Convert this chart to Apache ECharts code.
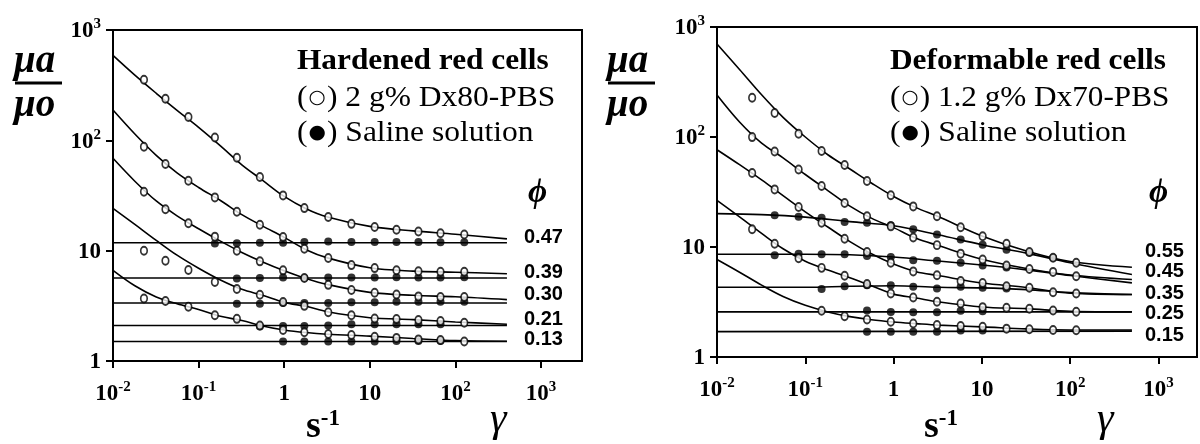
<!DOCTYPE html>
<html>
<head>
<meta charset="utf-8">
<script src="https://cdn.jsdelivr.net/npm/echarts@6/dist/echarts.min.js"></script>
<style>
  html, body { margin: 0; padding: 0; background: #fff; }
  #chart { width: 1200px; height: 444px; }
</style>
</head>
<body>
<div id="chart"></div>
<script>
// ---------- axes ----------
const X_TICKS = [0.01, 0.1, 1, 10, 100, 1000];
const X_TICK_LABELS = ['10^-2', '10^-1', '1', '10', '10^2', '10^3'];
const Y_TICKS = [1, 10, 100, 1000];
const Y_TICK_LABELS = ['1', '10', '10^2', '10^3'];

// ---------- left panel: hardened red cells ----------
const PHI_HARD = ['0.47', '0.39', '0.30', '0.21', '0.13'];

// shear rates of the dextran (open circle) measurements, s^-1
const hardShear = [0.023, 0.041, 0.076, 0.155, 0.28, 0.52, 0.97, 1.72, 3.27, 6.1, 11.4, 20.5, 37, 67, 127];
const hardDx047 = [354, 238, 163, 106, 69.5, 46.5, 31.7, 24.3, 20.2, 17.5, 16.4, 15.5, 14.9, 14.4, 14.0];
const hardDx039 = [87.5, 61, 43, 30.4, 22.5, 17.2, 13.3, 10.4, 8.57, 7.4, 6.95, 6.65, 6.5, 6.45, 6.45];
const hardDx030 = [34.2, 23.7, 17.7, 13.4, 10.0, 8.0, 6.63, 5.65, 4.9, 4.4, 4.15, 4.0, 3.85, 3.8, 3.8];
const hardDx021 = [10.0, 8.1, 6.67, 5.2, 4.5, 3.98, 3.42, 3.16, 2.77, 2.6, 2.43, 2.4, 2.35, 2.3, 2.22];
const hardDx013 = [3.69, 3.5, 3.1, 2.6, 2.41, 2.10, 1.91, 1.82, 1.76, 1.72, 1.66, 1.62, 1.57, 1.55, 1.50];

// fitted dextran curves
const hardFitX = [0.01, 0.018, 0.032, 0.056, 0.1, 0.18, 0.32, 0.56, 1, 1.8, 3.2, 10, 32, 100, 400];
const hardFit047 = [589, 390, 267, 187, 131, 89, 60, 43.4, 31, 24, 20.2, 16.6, 15.1, 14.1, 12.8];
const hardFit039 = [188, 114, 73, 50.7, 37.4, 28.5, 21.2, 16.7, 13.2, 10.2, 8.6, 7.0, 6.53, 6.38, 6.17];
const hardFit030 = [68.7, 42.6, 28.2, 20.7, 15.8, 12.2, 9.64, 7.9, 6.58, 5.6, 4.94, 4.19, 3.94, 3.82, 3.6];
const hardFit021 = [24.2, 17.3, 12.4, 9.1, 6.93, 5.42, 4.46, 3.94, 3.4, 3.13, 2.79, 2.47, 2.37, 2.26, 2.15];
const hardFit013 = [6.64, 4.81, 3.81, 3.3, 2.93, 2.54, 2.33, 2.08, 1.91, 1.81, 1.75, 1.68, 1.60, 1.53, 1.51];

// saline (filled dots) and their constant-viscosity lines
const hardLineX = [0.01, 400];
const hardSalineLevel = [11.8, 5.65, 3.35, 2.1, 1.5];
const hardSalX047 = [0.155, 0.28, 0.52, 0.97, 1.72, 3.27, 6.1, 11.4, 20.5, 37, 67, 127];
const hardSal047 = [11.6, 11.7, 11.8, 11.8, 12.0, 12.1, 12.0, 12.0, 12.0, 12.0, 11.9, 11.9];
const hardSalX039 = [0.28, 0.52, 0.97, 1.72, 3.27, 6.1, 11.4, 20.5, 37, 67, 127];
const hardSal039 = [5.6, 5.65, 5.7, 5.65, 5.7, 5.7, 5.7, 5.75, 5.7, 5.7, 5.75];
const hardSalX030 = [0.28, 0.52, 0.97, 1.72, 3.27, 6.1, 11.4, 20.5, 37, 67, 127];
const hardSal030 = [3.3, 3.3, 3.35, 3.35, 3.35, 3.4, 3.4, 3.45, 3.45, 3.45, 3.45];
const hardSalX021 = [0.52, 0.97, 1.72, 3.27, 6.1, 11.4, 20.5, 37, 67];
const hardSal021 = [2.05, 2.08, 2.08, 2.1, 2.15, 2.15, 2.15, 2.15, 2.15];
const hardSalX013 = [0.97, 1.72, 3.27, 6.1, 11.4, 20.5, 37, 67];
const hardSal013 = [1.5, 1.5, 1.5, 1.5, 1.5, 1.52, 1.52, 1.52];

// ---------- right panel: deformable red cells ----------
const PHI_DEF = ['0.55', '0.45', '0.35', '0.25', '0.15'];

const defShear = [0.025, 0.045, 0.084, 0.153, 0.279, 0.50, 0.93, 1.67, 3.1, 5.75, 10.2, 19, 34.5, 64, 117];
const defDx055 = [227, 165, 107, 74.5, 55.6, 39.8, 29.5, 23.4, 19.0, 15.1, 12.5, 10.7, 9.0, 8.0, 7.18];
const defDx045 = [99.8, 73.8, 50.7, 35.8, 25.1, 19.0, 15.4, 12.2, 10.4, 8.7, 7.7, 6.8, 6.3, 5.94, 5.42];
const defDx035 = [47, 33.4, 23.1, 16.6, 11.9, 9.0, 7.18, 6.0, 5.53, 4.9, 4.7, 4.4, 4.26, 3.88, 3.78];
const defDx025 = [14.5, 10.7, 7.9, 6.46, 5.47, 4.6, 3.78, 3.47, 3.18, 3.06, 2.84, 2.8, 2.75, 2.65, 2.58];
const defDxX015 = [0.153, 0.279, 0.50, 0.93, 1.67, 3.1, 5.75, 10.2, 19, 34.5, 64, 117];
const defDx015 = [2.63, 2.35, 2.19, 2.09, 2.02, 1.95, 1.91, 1.88, 1.81, 1.79, 1.76, 1.75];

const defFitX = [0.01, 0.018, 0.032, 0.056, 0.1, 0.18, 0.32, 0.56, 1, 1.8, 3.2, 10, 32, 100, 500];
const defFit055 = [701, 411, 242, 151, 100, 69, 51.2, 38.2, 28.8, 22.8, 18.9, 12.6, 9.2, 7.38, 6.55];
const defFit045 = [241, 137, 88, 64.6, 45.6, 32.6, 23.5, 18.3, 15.0, 12.0, 10.3, 7.73, 6.37, 5.56, 5.06];
const defFit035 = [76.6, 56, 40.7, 29.3, 20.9, 15.2, 11.2, 8.67, 7.0, 5.96, 5.5, 4.7, 4.29, 3.8, 3.70];
const defFit025 = [26.5, 18.8, 13.3, 9.64, 7.43, 6.18, 5.25, 4.44, 3.73, 3.44, 3.17, 2.85, 2.75, 2.6, 2.57];
const defFit015 = [7.7, 5.9, 4.5, 3.55, 2.95, 2.57, 2.33, 2.18, 2.08, 2.01, 1.95, 1.88, 1.8, 1.76, 1.76];

// saline curves of deformable cells (shear thinning at high phi)
const defSalLineX = [0.01, 0.032, 0.1, 0.32, 1, 3.2, 10, 32, 100, 500];
const defSalLine055 = [20.1, 19.7, 18.7, 17.0, 15.6, 12.9, 10.5, 8.8, 7.2, 5.62];
const defSalLine045 = [8.6, 8.6, 8.6, 8.5, 8.1, 7.45, 6.85, 6.2, 5.5, 4.72];
const defSalLine035 = [4.3, 4.3, 4.3, 4.4, 4.45, 4.3, 4.25, 4.1, 3.85, 3.7];
const defFlatX = [0.01, 500];
const defSalLine025 = [2.57, 2.57];
const defSalLine015 = [1.70, 1.72];

const defSalX055 = [0.045, 0.084, 0.153, 0.279, 0.50, 0.93, 1.67, 3.1, 5.75, 10.2, 19, 34.5, 64];
const defSal055 = [19.4, 18.8, 18.4, 16.9, 16.6, 15.8, 14.5, 13.0, 11.7, 10.5, 9.46, 8.85, 8.0];
const defSalX045 = [0.045, 0.084, 0.153, 0.279, 0.50, 0.93, 1.67, 3.1, 5.75, 10.2, 19];
const defSal045 = [8.4, 8.7, 8.6, 8.6, 8.3, 8.13, 7.57, 7.48, 7.2, 6.8, 6.5];
const defSalX035 = [0.153, 0.279, 0.50, 0.93, 1.67, 3.1, 5.75, 10.2, 19];
const defSal035 = [4.15, 4.4, 4.49, 4.49, 4.35, 4.2, 4.35, 4.26, 4.2];
const defSalX025 = [0.50, 0.93, 1.67, 3.1, 5.75, 10.2];
const defSal025 = [2.65, 2.57, 2.55, 2.55, 2.63, 2.6];
const defSalX015 = [0.50, 0.93, 1.67, 3.1, 5.75, 10.2];
const defSal015 = [1.70, 1.70, 1.70, 1.70, 1.74, 1.74];

// ---------- helpers ----------
const SERIF = '"Liberation Serif", "Times New Roman", serif';
const SANS = '"Liberation Sans", Arial, sans-serif';

function pts(xs, ys) { return xs.map((x, i) => [x, ys[i]]); }

function tickFormatter(ticks, labels) {
  return function (v) {
    const i = ticks.findIndex(t => Math.abs(Math.log10(t) - Math.log10(v)) < 0.01);
    if (i < 0) return '';
    const parts = labels[i].split('^');
    return parts.length > 1 ? '{b|' + parts[0] + '}{s|' + parts[1] + '}' : '{b|' + parts[0] + '}';
  };
}

const labelRich = {
  b: { fontFamily: SERIF, fontWeight: 'bold', fontSize: 23, lineHeight: 26, verticalAlign: 'bottom', color: '#000' },
  s: { fontFamily: SERIF, fontWeight: 'bold', fontSize: 15, lineHeight: 15, verticalAlign: 'top', color: '#000' }
};

function xAxisFor(grid, max) {
  return {
    type: 'log', logBase: 10, gridIndex: grid, min: 0.01, max: max,
    axisLine: { show: true, lineStyle: { color: '#000', width: 2 } },
    axisTick: { show: true, length: 7, lineStyle: { color: '#000', width: 2 }, customValues: X_TICKS },
    axisLabel: { customValues: X_TICKS, formatter: tickFormatter(X_TICKS, X_TICK_LABELS), rich: labelRich, margin: 19 },
    splitLine: { show: false }, minorTick: { show: false }
  };
}
function yAxisFor(grid) {
  return {
    type: 'log', logBase: 10, gridIndex: grid, min: 1, max: 1000,
    axisLine: { show: true, lineStyle: { color: '#000', width: 2 } },
    axisTick: { show: true, length: 7, lineStyle: { color: '#000', width: 2 }, customValues: Y_TICKS },
    axisLabel: { customValues: Y_TICKS, formatter: tickFormatter(Y_TICKS, Y_TICK_LABELS), rich: labelRich, margin: 12 },
    splitLine: { show: false }, minorTick: { show: false }
  };
}

function curve(idx, xs, ys) {
  return { type: 'line', xAxisIndex: idx, yAxisIndex: idx, data: pts(xs, ys), smooth: 0.35,
    showSymbol: false, silent: true, z: 2, lineStyle: { color: '#000', width: 1.6 } };
}
function openDots(idx, xs, ys) {
  return { type: 'scatter', xAxisIndex: idx, yAxisIndex: idx, data: pts(xs, ys), symbol: 'circle',
    symbolSize: [6.5, 8], silent: true, z: 5,
    itemStyle: { color: '#fff', borderColor: '#000', borderWidth: 1.8 } };
}
function filledDots(idx, xs, ys) {
  return { type: 'scatter', xAxisIndex: idx, yAxisIndex: idx, data: pts(xs, ys), symbol: 'circle',
    symbolSize: 8, silent: true, z: 4, itemStyle: { color: '#000' } };
}

const series = [];
// left panel
[hardFit047, hardFit039, hardFit030, hardFit021, hardFit013].forEach(f => series.push(curve(0, hardFitX, f)));
hardSalineLevel.forEach(l => series.push(curve(0, hardLineX, [l, l])));
[hardDx047, hardDx039, hardDx030, hardDx021, hardDx013].forEach(d => series.push(openDots(0, hardShear, d)));
[[hardSalX047, hardSal047], [hardSalX039, hardSal039], [hardSalX030, hardSal030],
 [hardSalX021, hardSal021], [hardSalX013, hardSal013]].forEach(p => series.push(filledDots(0, p[0], p[1])));
// right panel
[defFit055, defFit045, defFit035, defFit025, defFit015].forEach(f => series.push(curve(1, defFitX, f)));
[defSalLine055, defSalLine045, defSalLine035].forEach(f => series.push(curve(1, defSalLineX, f)));
[defSalLine025, defSalLine015].forEach(f => series.push(curve(1, defFlatX, f)));
[defDx055, defDx045, defDx035, defDx025].forEach(d => series.push(openDots(1, defShear, d)));
series.push(openDots(1, defDxX015, defDx015));
[[defSalX055, defSal055], [defSalX045, defSal045], [defSalX035, defSal035],
 [defSalX025, defSal025], [defSalX015, defSal015]].forEach(p => series.push(filledDots(1, p[0], p[1])));

// ---------- annotation text ----------
function txt(x, y, text, font, extra, sx) {
  return { type: 'text', x: x, y: y, scaleX: sx || 1, silent: true, z: 10,
    style: Object.assign({ text: text, font: font, fill: '#000', textVerticalAlign: 'middle' }, extra || {}) };
}
const legendRich = {
  p: { fontFamily: SERIF, fontSize: 30, color: '#000' },
  o: { fontFamily: '"DejaVu Sans", sans-serif', fontSize: 19, color: '#000', padding: [0, 1, 0, 1] }
};
function panelText(ox, oy, title, dextran, phis, phiY, phiX, sX, gX, titleScale, lineScale, saltScale) {
  const g = [];
  // ratio of viscosities
  g.push(txt(ox + 0, oy + 62, '\u03bca', 'italic bold 39px ' + SERIF));
  g.push({ type: 'line', silent: true, shape: { x1: ox + 1, y1: oy + 83, x2: ox + 48, y2: oy + 83 },
    style: { stroke: '#000', lineWidth: 3 } });
  g.push(txt(ox + 0, oy + 106, '\u03bco', 'italic bold 39px ' + SERIF));
  // legend block
  g.push(txt(ox + 283, oy + 62, title, 'bold 29px ' + SERIF, null, titleScale));
  g.push(txt(ox + 283, oy + 98, '{p|(}{o|\u25CB}{p|) ' + dextran + '}', '30px ' + SERIF, { rich: legendRich }, lineScale));
  g.push(txt(ox + 283, oy + 133, '{p|(}{o|\u25CF}{p|) Saline solution}', '30px ' + SERIF, { rich: legendRich }, saltScale));
  // volume fraction key
  g.push(txt(phiX + 4, oy + 193, '\u03d5', 'italic bold 33px ' + SERIF));
  phis.forEach((p, i) => g.push(txt(phiX, phiY[i], p, 'bold 20px ' + SANS)));
  // shear rate unit and symbol
  g.push(txt(sX, oy + 427, '{s|s}{e|-1}', 'bold 36px ' + SERIF, { rich: {
    s: { fontFamily: SERIF, fontWeight: 'bold', fontSize: 38, lineHeight: 38, verticalAlign: 'bottom' },
    e: { fontFamily: SERIF, fontWeight: 'bold', fontSize: 23, lineHeight: 23, verticalAlign: 'top' } } }));
  g.push(txt(gX, oy + 420, '\u03b3', 'italic 42px ' + SERIF));
  return g;
}

const graphics = [].concat(
  panelText(14, 0, 'Hardened red cells', '2 g% Dx80-PBS', PHI_HARD,
    [237.5, 272.5, 294.5, 319.5, 339.5], 524, 306, 490, 1.08, 1.05, 1.05),
  panelText(607, 0, 'Deformable red cells', '1.2 g% Dx70-PBS', PHI_DEF,
    [251.5, 271.5, 293, 313.5, 335.5], 1145, 924, 1097, 1.08, 1.04, 1.05)
);

const option = {
  animation: false,
  backgroundColor: '#fff',
  grid: [
    { left: 113, top: 30, width: 469, height: 331, show: true, borderColor: '#000', borderWidth: 2, backgroundColor: 'transparent' },
    { left: 717, top: 27, width: 480, height: 330, show: true, borderColor: '#000', borderWidth: 2, backgroundColor: 'transparent' }
  ],
  xAxis: [xAxisFor(0, 3013), xAxisFor(1, 2730)],
  yAxis: [yAxisFor(0), yAxisFor(1)],
  series: series,
  graphic: graphics
};

const chart = echarts.init(document.getElementById('chart'), null, { renderer: 'canvas' });
chart.setOption(option);
</script>
</body>
</html>
